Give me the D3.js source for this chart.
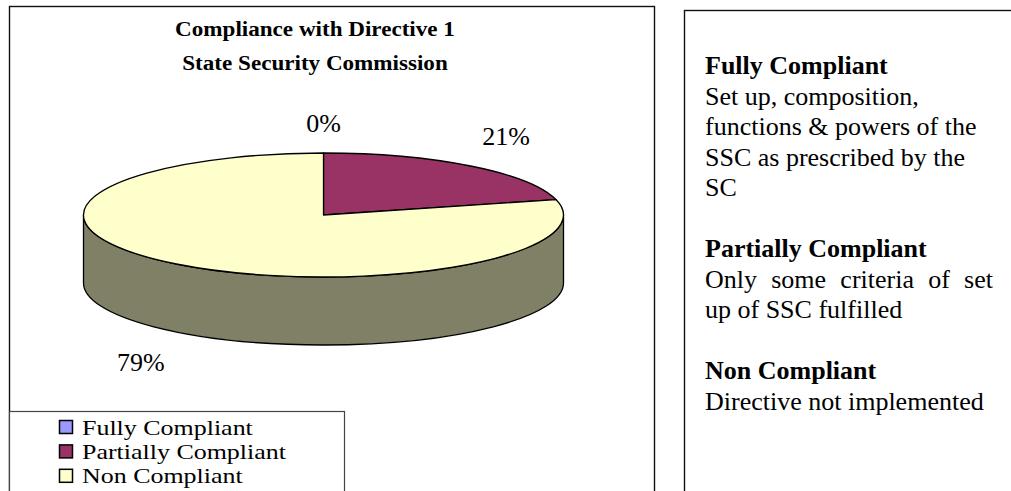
<!DOCTYPE html>
<html>
<head>
<meta charset="utf-8">
<script src="https://cdn.jsdelivr.net/npm/d3@7"></script>
<style>
  body { margin: 0; background: #fff; }
  svg { display: block; font-family: "Liberation Serif", "Times New Roman", serif; }
</style>
</head>
<body>
<svg width="1011" height="491"></svg>
<script>
"use strict";

// chart data
const categories = ["Fully Compliant", "Partially Compliant", "Non Compliant"];
const values = [0, 21, 79];
const colors = ["#9999FF", "#993366", "#FFFFCC"];
const titleLines = ["Compliance with Directive 1", "State Security Commission"];

// side notes, one block per category
const noteLines = [
    ["Set up, composition,", "functions & powers of the", "SSC as prescribed by the", "SC"],
    ["Only some criteria of set", "up of SSC fulfilled"],
    ["Directive not implemented"]
];
const justifiedLines = ["Only some criteria of set"];

const svg = d3.select("svg");

svg.append("rect").attr("width", 1011).attr("height", 491).attr("fill", "#fff");

// frames
svg.append("rect")
    .attr("x", 9.5).attr("y", 6.5).attr("width", 645).attr("height", 520)
    .attr("fill", "none").attr("stroke", "#111").attr("stroke-width", 1.4);

svg.append("rect")
    .attr("x", 684.5).attr("y", 10.5).attr("width", 400).attr("height", 520)
    .attr("fill", "none").attr("stroke", "#111").attr("stroke-width", 1.4);

// title (times is narrower than the original book face, so widen a bit)
svg.append("g")
    .selectAll("g")
    .data(titleLines)
    .join("g")
    .attr("transform", (d, i) => `translate(315, ${36 + i * 34}) scale(1.1, 1)`)
    .append("text")
    .attr("text-anchor", "middle")
    .attr("font-weight", "bold")
    .attr("font-size", 21)
    .text(d => d);

// 3d pie
const cx = 323.5, cy = 215, rx = 240, ry = 62, depth = 68;
const total = d3.sum(values);

const arcs = d3.pie().sort(null).startAngle(0).endAngle(2 * Math.PI)(values);

const pt = (a, dy = 0) => [cx + rx * Math.sin(a), cy - ry * Math.cos(a) + dy];
const shade = c => d3.interpolateRgb(c, "#000")(0.5);

const pie = svg.append("g");

// side walls (front half only)
arcs.forEach((d, i) => {
    const s = Math.max(d.startAngle, Math.PI / 2);
    const e = Math.min(d.endAngle, 3 * Math.PI / 2);
    if (e <= s) return;
    const p0 = pt(s), p1 = pt(e), q1 = pt(e, depth), q0 = pt(s, depth);
    const large = (e - s) > Math.PI ? 1 : 0;
    pie.append("path")
        .attr("d", `M${p0}A${rx},${ry} 0 ${large} 1 ${p1}L${q1}A${rx},${ry} 0 ${large} 0 ${q0}Z`)
        .attr("fill", shade(colors[i]))
        .attr("stroke", "#000")
        .attr("stroke-width", 1.3)
        .attr("stroke-linejoin", "round");
});

// top faces
arcs.forEach((d, i) => {
    if (d.endAngle - d.startAngle <= 0) return;
    const p0 = pt(d.startAngle), p1 = pt(d.endAngle);
    const large = (d.endAngle - d.startAngle) > Math.PI ? 1 : 0;
    pie.append("path")
        .attr("d", `M${cx},${cy}L${p0}A${rx},${ry} 0 ${large} 1 ${p1}Z`)
        .attr("fill", colors[i])
        .attr("stroke", "#000")
        .attr("stroke-width", 1.3)
        .attr("stroke-linejoin", "round");
});

// percent labels outside the rim
svg.append("g")
    .selectAll("text")
    .data(arcs)
    .join("text")
    .attr("x", d => {
        const m = (d.startAngle + d.endAngle) / 2;
        return pt(m)[0] + 58 * Math.sin(m);
    })
    .attr("y", d => {
        const m = (d.startAngle + d.endAngle) / 2;
        const front = Math.cos(m) < 0;
        return pt(m, front ? depth : 0)[1] + (front ? 30 : -30) + 9;
    })
    .attr("text-anchor", "middle")
    .attr("font-size", 26)
    .text(d => d3.format(".0%")(d.value / total));

// legend
const legend = svg.append("g");
legend.append("rect")
    .attr("x", 9.5).attr("y", 411.5).attr("width", 335).attr("height", 120)
    .attr("fill", "#fff").attr("stroke", "#444").attr("stroke-width", 1.2);

const rows = legend.selectAll("g.row")
    .data(categories)
    .join("g")
    .attr("class", "row")
    .attr("transform", (d, i) => `translate(0, ${427 + i * 24.4})`);

rows.append("rect")
    .attr("x", 59.5).attr("y", -6.5).attr("width", 13).attr("height", 13)
    .attr("fill", (d, i) => colors[i])
    .attr("stroke", "#000").attr("stroke-width", 1.5);

rows.append("g")
    .attr("transform", "translate(82, 7.5) scale(1.18, 1)")
    .append("text")
    .attr("font-size", 22)
    .text(d => d);

// notes panel
const notes = svg.append("g").attr("font-size", 26);
const noteX = 705, noteW = 288, lineH = 30.5;
let line = 0;
categories.forEach((c, i) => {
    notes.append("text")
        .attr("x", noteX).attr("y", 74 + line * lineH)
        .attr("font-weight", "bold")
        .text(c);
    line++;
    noteLines[i].forEach(t => {
        const y = 74 + line * lineH;
        if (justifiedLines.includes(t)) {
            const words = t.split(" ");
            const tmp = words.map(w => notes.append("text").attr("y", y).text(w));
            const widths = tmp.map(s => s.node().getComputedTextLength());
            const gap = (noteW - d3.sum(widths)) / (words.length - 1);
            let x = noteX;
            tmp.forEach((s, k) => { s.attr("x", x); x += widths[k] + gap; });
        } else {
            notes.append("text").attr("x", noteX).attr("y", y).text(t);
        }
        line++;
    });
    line++;
});
</script>
</body>
</html>
